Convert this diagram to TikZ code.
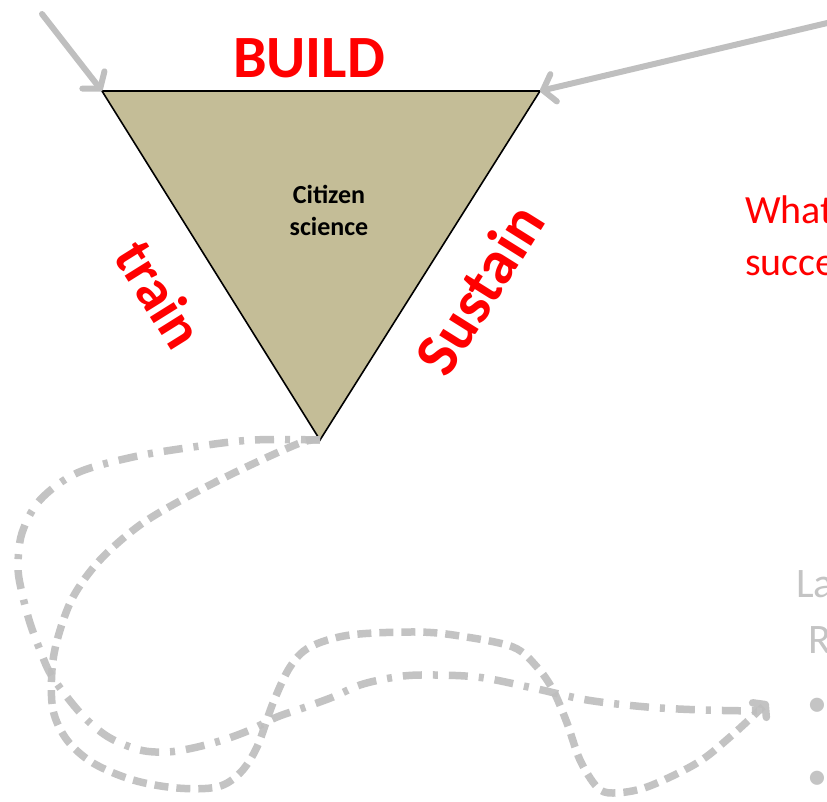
\documentclass[tikz,border=0pt]{standalone}
\usepackage{fontspec}
\setmainfont{Carlito}
\usetikzlibrary{arrows.meta}
\definecolor{tri}{HTML}{C4BD97}
\definecolor{arrgray}{HTML}{BFBFBF}
\definecolor{curvegray}{HTML}{BDBDBD}
\definecolor{txtgray}{HTML}{C4C4C4}
\tikzset{
  bigred/.style={text=red, font=\bfseries\fontsize{60}{66}\selectfont, inner sep=0pt},
  grayarrow/.style={draw=arrgray, line width=6pt, line cap=round,
    -{Straight Barb[round, length=11pt, width=28pt]}},
  dashcurve/.style={draw=curvegray, line width=7.5pt, dash pattern=on 14pt off 8pt, opacity=0.9},
  dotcurve/.style={draw=curvegray, line width=7.5pt, dash pattern=on 19pt off 11pt on 5pt off 11pt, opacity=0.9},
  redtext/.style={text=red, font=\fontsize{40}{52}\selectfont, inner sep=0pt, anchor=base west},
  graytext/.style={text=txtgray, font=\fontsize{42}{52}\selectfont, inner sep=0pt, anchor=base west},
}
\begin{document}
\begin{tikzpicture}[x=1pt,y=-1pt]
\useasboundingbox (0,0) rectangle (827,801);
\clip (0,0) rectangle (827,801);
% triangle corners
\coordinate (tl) at (102,91);
\coordinate (tr) at (540,91);
\coordinate (tip) at (320,440);
\coordinate (a1) at (42,14);
\coordinate (a2) at (840,20);
\coordinate (cend) at (768,702);
\coordinate (dend) at (760,711);
\fill[tri] (tl) -- (tr) -- (tip) -- cycle;
\draw[line width=1.6pt, line join=miter] (tl) -- (tr) -- (tip) -- cycle;

\node[bigred, anchor=base] (build) at (309,77) {BUILD};
\node[bigred, rotate=-58, font=\bfseries\fontsize{58}{60}\selectfont] (train) at (160,294) {train};
\node[bigred, rotate=58, font=\bfseries\fontsize{62}{60}\selectfont] (sustain) at (479,289) {Sustain};
\node[font=\bfseries\fontsize{26}{32}\selectfont, align=center, inner sep=0pt, anchor=base] (cs) at (329,235) {Citizen\\science};

\draw[grayarrow] (a1) -- (tl);
\draw[grayarrow] (a2) -- (tr);

\node[redtext] (what) at (745,223) {What};
\node[redtext] (succ) at (745,275) {succe};
\node[graytext] (la) at (796,597) {La};
\node[graytext] (r) at (808,653) {R};
\node[text=txtgray, font=\fontsize{40}{40}\selectfont, inner sep=0pt, anchor=center] (b1) at (817,707) {•};
\node[text=txtgray, font=\fontsize{40}{40}\selectfont, inner sep=0pt, anchor=center] (b2) at (817,780) {•};

% dash-dot curve
\draw[dotcurve] plot[smooth, tension=0.55] coordinates {
 (tip) (253,440) (193,447) (133,457) (77,473) (40,500) (22,533) (18,567) (22,593) (30,623) (40,650)
 (50,673) (67,697) (87,720) (110,738) (140,750) (167,752) (193,748) (223,740) (250,730) (277,717)
 (303,708) (333,697) (360,685) (390,678) (420,675) (477,677) (533,688) (587,700) (647,707) (703,710) (dend)};
% dashed curve
\draw[dashcurve, -{Straight Barb[round, length=8pt, width=20pt]}] plot[smooth, tension=0.55] coordinates {
 (tip) (300,443) (240,470) (187,497) (140,525) (100,560) (73,597) (58,637) (52,670) (53,710) (67,740)
 (93,763) (133,780) (177,788) (217,787) (240,773) (257,747) (273,703) (290,667) (310,647) (350,635)
 (417,632) (460,636) (513,647) (537,667) (553,690) (567,723) (580,760) (597,787) (613,793) (647,787)
 (697,763) (730,737) (cend)};
\end{tikzpicture}
\end{document}
